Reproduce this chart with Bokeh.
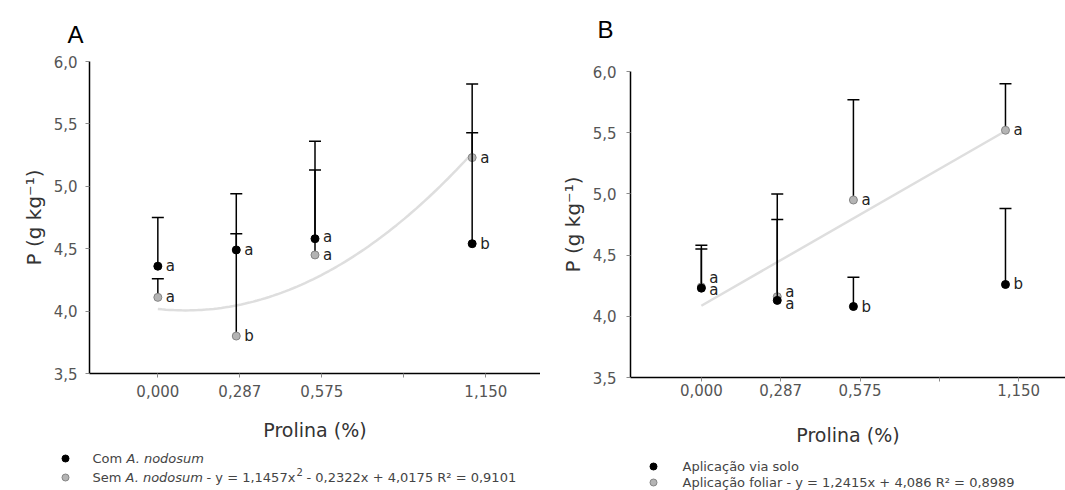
import numpy as np
from bokeh.plotting import figure
from bokeh.layouts import row, column
from bokeh.models import Range1d, FixedTicker, ColumnDataSource
from bokeh.embed import file_html
from bokeh.resources import INLINE
from bokeh.core.properties import value

# ---------------- data ----------------
x_levels = [0.0, 0.287, 0.575, 1.15]
x_tick_pos = [0.0, 0.3, 0.6, 0.9, 1.2]
x_tick_labels = ["0,000", "0,287", "0,575", "", "1,150"]
y_tick_pos = [3.5, 4.0, 4.5, 5.0, 5.5, 6.0]
y_tick_labels = ["3,5", "4,0", "4,5", "5,0", "5,5", "6,0"]

# Panel A
a_com_mean = [4.36, 4.49, 4.58, 4.54]
a_com_upper = [4.75, 4.62, 5.13, 5.43]
a_com_letters = ["a", "a", "a", "b"]
a_sem_mean = [4.11, 3.80, 4.45, 5.23]
a_sem_upper = [4.26, 4.94, 5.36, 5.82]
a_sem_letters = ["a", "b", "a", "a"]
a_fit_coef = [1.1457, -0.2322, 4.0175]  # y = c2 x^2 + c1 x + c0

# Panel B
b_solo_mean = [4.23, 4.13, 4.08, 4.26]
b_solo_upper = [4.55, 4.79, 4.32, 4.88]
b_solo_letters = ["a", "a", "b", "b"]
b_fol_mean = [4.24, 4.16, 4.95, 5.52]
b_fol_upper = [4.58, 5.00, 5.77, 5.90]
b_fol_letters = ["a", "a", "a", "a"]
b_fit_coef = [1.2415, 4.086]  # y = c1 x + c0

FONT = "DejaVu Sans"
GRAY_FILL = "#b4b4b4"
GRAY_LINE = "#858585"
TREND = "#dedede"
TOP_H = 48      # strip above each plot (panel letter)
LEG_H = 42      # strip below each plot (legend)
PLOT_H = 490 - TOP_H - LEG_H


def strip(width, height):
    s = figure(width=width, height=height, output_backend="svg", toolbar_location=None,
               x_range=Range1d(0, width), y_range=Range1d(height, 0), title=None,
               x_axis_location=None, y_axis_location=None,
               min_border_left=0, min_border_right=0, min_border_top=0, min_border_bottom=0)
    s.outline_line_color = None
    s.grid.visible = False
    s.background_fill_color = "white"
    s.border_fill_color = "white"
    return s


def put_text(s, x, y, text, size, color="#444444", style="normal", font=FONT):
    s.text(x=[x], y=[y], text=[text], text_font=value(font), text_font_size=size,
           text_color=color, text_font_style=style, text_align="left", text_baseline="middle")


def make_plot(width, border_left, frame_top, frame_bottom, x_start, x_end,
              tick_standoff_x, title_standoff_x, tick_standoff_y, title_standoff_y):
    p = figure(width=width, height=PLOT_H, output_backend="svg", toolbar_location=None,
               x_range=Range1d(x_start, x_end), y_range=Range1d(3.5, 6.0), title=None,
               min_border_left=border_left, min_border_right=0,
               min_border_top=frame_top - TOP_H, min_border_bottom=TOP_H + PLOT_H - frame_bottom)
    p.outline_line_color = None
    p.grid.visible = False
    p.background_fill_color = "white"
    p.border_fill_color = "white"

    xa = p.xaxis[0]
    xa.ticker = FixedTicker(ticks=x_tick_pos)
    xa.major_label_overrides = dict(zip(x_tick_pos, x_tick_labels))
    xa.axis_label = "Prolina (%)"
    xa.major_label_standoff = tick_standoff_x
    xa.axis_label_standoff = title_standoff_x

    ya = p.yaxis[0]
    ya.ticker = FixedTicker(ticks=y_tick_pos)
    ya.major_label_overrides = dict(zip(y_tick_pos, y_tick_labels))
    ya.axis_label = "P (g kg\u207b\u00b9)"
    ya.major_label_standoff = tick_standoff_y
    ya.axis_label_standoff = title_standoff_y

    for ax in (xa, ya):
        ax.axis_line_color = "black"
        ax.axis_line_width = 1.5
        ax.major_tick_line_color = "#8a8a8a"
        ax.major_tick_line_width = 1
        ax.major_tick_out = 4
        ax.major_tick_in = 0
        ax.minor_tick_line_color = None
        ax.major_label_text_font = FONT
        ax.major_label_text_font_size = "15px"
        ax.major_label_text_color = "#555555"
        ax.axis_label_text_font = FONT
        ax.axis_label_text_font_style = "normal"
        ax.axis_label_text_color = "#333333"
    xa.axis_label_text_font_size = "19px"
    ya.axis_label_text_font_size = "20px"
    return p


def series(p, mean, upper, letters, fill, line, letter_dy):
    src = ColumnDataSource(dict(x=x_levels, m=mean, u=upper, t=letters, dy=letter_dy))
    p.segment(x0="x", y0="m", x1="x", y1="u", source=src, line_color="black", line_width=1.5)
    p.scatter(x="x", y="u", source=src, marker="dash", size=12, line_color="black", line_width=1.5)
    p.scatter(x="x", y="m", source=src, marker="circle", size=8, fill_color=fill,
              line_color=line, line_width=1)
    p.text(x="x", y="m", text="t", source=src, x_offset=8, y_offset="dy",
           text_font=value(FONT), text_font_size="15px", text_color="#222222",
           text_align="left", text_baseline="middle")


# ---------------- panel A ----------------
pa = make_plot(540, 89, 61, 373, -0.25, 1.40, 7, 19, 8, 5)
xa_fit = np.linspace(0, x_levels[-1], 80)
ya_fit = a_fit_coef[0] * xa_fit ** 2 + a_fit_coef[1] * xa_fit + a_fit_coef[2]
pa.line(xa_fit, ya_fit, line_color=TREND, line_width=2.5)
series(pa, a_sem_mean, a_sem_upper, a_sem_letters, GRAY_FILL, GRAY_LINE, [0, 0, 0, 0])
series(pa, a_com_mean, a_com_upper, a_com_letters, "black", "black", [0, 0, -2, 0])

ta = strip(540, TOP_H)
put_text(ta, 67, 34, "A", "24px", color="black", font="Liberation Sans")

la = strip(540, LEG_H)
la.scatter(x=[65], y=[10], marker="circle", size=7, fill_color="black", line_color="black")
la.scatter(x=[65], y=[29], marker="circle", size=7, fill_color=GRAY_FILL, line_color=GRAY_LINE)
put_text(la, 92, 10, "Com", "13px")
put_text(la, 126, 10, "A. nodosum", "13px", style="italic")
put_text(la, 92, 29, "Sem", "13px")
put_text(la, 125, 29, "A. nodosum", "13px", style="italic")
put_text(la, 206, 29, "- y = 1,1457x", "13px")
put_text(la, 296, 23, "2", "10px")
put_text(la, 306, 29, "- 0,2322x + 4,0175 R\u00b2 = 0,9101", "13px")

# ---------------- panel B ----------------
pb = make_plot(525, 90, 71, 377, -0.268, 1.377, 2, 25, 10, 5)
xb_fit = np.linspace(0, x_levels[-1], 2)
yb_fit = b_fit_coef[0] * xb_fit + b_fit_coef[1]
pb.line(xb_fit, yb_fit, line_color=TREND, line_width=2.5)
series(pb, b_fol_mean, b_fol_upper, b_fol_letters, GRAY_FILL, GRAY_LINE, [-9, -5, 0, 0])
series(pb, b_solo_mean, b_solo_upper, b_solo_letters, "black", "black", [2, 4, 0, 0])

tb = strip(525, TOP_H)
put_text(tb, 57, 29, "B", "24px", color="black", font="Liberation Sans")

lb = strip(525, LEG_H)
lb.scatter(x=[113], y=[18], marker="circle", size=7, fill_color="black", line_color="black")
lb.scatter(x=[113], y=[34], marker="circle", size=7, fill_color=GRAY_FILL, line_color=GRAY_LINE)
put_text(lb, 142, 18, "Aplica\u00e7\u00e3o via solo", "13px")
put_text(lb, 142, 34, "Aplica\u00e7\u00e3o foliar -  y = 1,2415x + 4,086 R\u00b2 = 0,8989", "13px")

layout = row(column(row(ta), row(pa), row(la)), column(row(tb), row(pb), row(lb)))
open("out.html", "w").write(file_html(layout, INLINE))
